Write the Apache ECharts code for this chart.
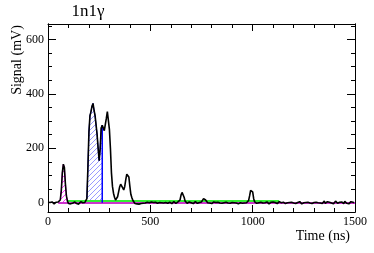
<!DOCTYPE html>
<html><head><meta charset="utf-8">
<script src="https://cdn.jsdelivr.net/npm/echarts@6/dist/echarts.min.js"></script>
<style>html,body{margin:0;padding:0;background:#fff}#c{width:374px;height:253px}</style>
</head><body><div id="c"></div>
<script>
const binWidth = 5; // ns
const signal = [
  2,-3,1,-2,3,0,-4,1,2,-1,3,-2,
  10,45,110,142,130,70,25,6,-3,
  2,-4,1,-2,-6,3,0,-3,2,-5,1,4,-2,0,-3,1,3,
  15,130,260,320,335,355,365,340,320,285,250,200,155,200,275,285,285,265,270,310,335,330,270,200,110,60,35,20,10,
  12,22,40,58,68,70,55,47,60,85,105,108,95,60,30,18,8,2,
  -3,-6,-4,-8,-5,-7,-3,-6,-2,-5,-1,-4,2,-3,0,-2,3,-1,1,-4,2,0,-2,3,1,-3,0,2,-1,-4,1,3,-2,0,2,-1,-3,1,4,0,-2,1,3,0,
  10,28,38,36,20,6,2,
  -2,1,3,-1,0,2,-3,1,4,0,-2,2,1,-1,3,
  8,15,14,10,4,0,2,
  -1,2,-3,0,3,-2,1,-4,2,0,-1,3,-2,1,0,-3,2,4,-1,0,-2,3,1,-3,0,2,-1,1,-4,2,0,3,-2,1,-1,2,0,-3,
  8,25,45,48,40,15,3,
  1,-2,3,0,-3,2,1,-1,4,0,-2,3,1,-4,0,2,-1,3,-2,1,0,-3,2,4,-1,0,-5,2,1,-3,
  3,0,-2,1,-4,2,5,-1,0,-3,2,1,-2,4,-1,-4,3,0,-2,1,-5,2,3,-1,0,-3,4,1,-2,2,
  -4,0,5,-1,3,-3,1,6,-2,0,4,-3,2,5,-1,3,-4,1,6,0,-2,4,2,-5,3,1,-3,5,0,-2,3,-4,1,4,-1,2,0
];
const magentaWindow = [60, 95];
const blueWindow = [190, 265];
const greenLevel = 6, greenRange = [95, 1130];
const magentaLevel = -1, magentaRange = [50, 1500];
const xTicks = [0, 500, 1000, 1500];
const yMajor = [0, 200, 400, 600];
const yMinor = [50, 100, 150, 250, 300, 350, 450, 500, 550, 650];

const pts = signal.map((v, i) => [i * binWidth, v]);
const inWin = w => pts.filter(p => p[0] >= w[0] && p[0] <= w[1]);
const blueEnd = pts.find(p => p[0] === blueWindow[1]);

function hatch(color) {
  const c = document.createElement('canvas');
  c.width = 5; c.height = 5;
  const g = c.getContext('2d');
  g.fillStyle = '#fff'; g.fillRect(0, 0, 5, 5);
  g.strokeStyle = color; g.lineWidth = 0.8;
  g.beginPath();
  g.moveTo(0, 5); g.lineTo(5, 0);
  g.moveTo(-1, 1); g.lineTo(1, -1);
  g.moveTo(4, 6); g.lineTo(6, 4);
  g.stroke();
  return c;
}

const serif = "'Liberation Serif', 'DejaVu Serif', serif";
const blk = {color: '#000', width: 1};
const fmt = v => String(v);
function yAx(pos, vals, len, labels) {
  return {type: 'value', position: pos, min: -34, max: 657, scale: true,
    axisLine: {show: true, onZero: false, lineStyle: blk},
    axisTick: {show: true, inside: true, length: len, customValues: vals, lineStyle: blk},
    axisLabel: labels ? {show: true, customValues: vals, margin: 4, formatter: fmt, fontFamily: serif, fontSize: 12, color: '#000'} : {show: false},
    splitLine: {show: false}};
}
function xAx(pos, labels) {
  return {type: 'value', position: pos, min: 0, max: 1500, interval: 500,
    axisLine: {show: true, onZero: false, lineStyle: blk},
    axisTick: {show: true, inside: true, length: 7, lineStyle: blk},
    minorTick: {show: true, splitNumber: 5, length: 4, lineStyle: blk},
    axisLabel: labels ? {show: true, margin: 4, formatter: fmt, fontFamily: serif, fontSize: 12, color: '#000'} : {show: false},
    splitLine: {show: false}};
}

const chart = echarts.init(document.getElementById('c'), null, {renderer: 'canvas'});
chart.setOption({
  animation: false,
  backgroundColor: '#fff',
  grid: {left: 48, right: 19, top: 24, bottom: 41},
  xAxis: [xAx('bottom', true), xAx('top', false)],
  yAxis: [yAx('left', yMajor, 8, true), yAx('left', yMinor, 4, false), yAx('right', yMajor, 8, false), yAx('right', yMinor, 4, false)],
  graphic: [
    {type: 'text', x: 88, y: 12, style: {text: '1n1γ', fontFamily: serif, fontSize: 17, fill: '#000', align: 'center', verticalAlign: 'middle'}},
    {type: 'text', x: 17, y: 60, rotation: Math.PI / 2, style: {text: 'Signal (mV)', fontFamily: serif, fontSize: 14, fill: '#000', align: 'center', verticalAlign: 'middle'}},
    {type: 'text', x: 350, y: 236, style: {text: 'Time (ns)', fontFamily: serif, fontSize: 14, fill: '#000', align: 'right', verticalAlign: 'middle'}}
  ],
  series: [
    {type: 'line', data: inWin(magentaWindow), symbol: 'none', z: 2,
      lineStyle: {color: '#ff00ff', width: 1}, areaStyle: {origin: 0, opacity: 1, color: {image: hatch('#ff00ff'), repeat: 'repeat'}}},
    {type: 'line', data: inWin(blueWindow), symbol: 'none', z: 2,
      lineStyle: {color: '#0000ff', width: 1}, areaStyle: {origin: 0, opacity: 1, color: {image: hatch('#8080ff'), repeat: 'repeat'}}},
    {type: 'line', data: [[greenRange[0], greenLevel], [greenRange[1], greenLevel]], symbol: 'none', z: 3,
      lineStyle: {color: '#33ee33', width: 2}},
    {type: 'line', data: [[magentaRange[0], magentaLevel], [magentaRange[1], magentaLevel]], symbol: 'none', z: 3,
      lineStyle: {color: '#cc33cc', width: 2}},
    {type: 'line', data: [[blueEnd[0], 0], blueEnd], symbol: 'none', z: 4,
      lineStyle: {color: '#0000ff', width: 1.5}},
    {type: 'line', data: pts, symbol: 'none', z: 5,
      lineStyle: {color: '#000', width: 1.6}}
  ]
});
</script></body></html>
